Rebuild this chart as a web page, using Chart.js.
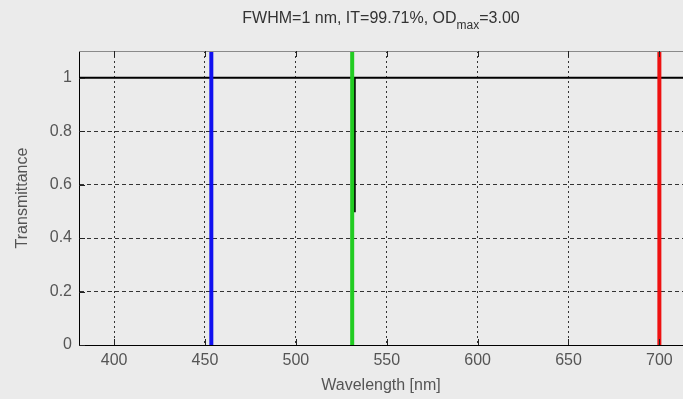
<!DOCTYPE html>
<html>
<head>
<meta charset="utf-8">
<script src="https://cdn.jsdelivr.net/npm/chart.js@4/dist/chart.umd.min.js"></script>
<style>
    html, body { margin: 0; padding: 0; background: #ebebeb; }
    #wrap { width: 683px; height: 399px; }
</style>
</head>
<body>
<div id="wrap"><canvas id="filterChart" width="683" height="399"></canvas></div>
<script>
// filter transmittance curve (notch at 532 nm)
const wavelengths = [380, 531.6, 532, 532.4, 713];
const transmittance = [1, 1, 0.5, 1, 1];

// laser lines
const blueLine = 453.5;
const greenLine = 531;
const redLine = 700;

const xTicks = [400, 450, 500, 550, 600, 650, 700];
const yTicks = [0, 0.2, 0.4, 0.6, 0.8, 1];

const titleMain = 'FWHM=1 nm, IT=99.71%, OD';
const titleSub = 'max';
const titleEnd = '=3.00';

const font = '"Liberation Sans", Arial, sans-serif';
const fontSize = 16;

function vline(x) {
    return [{ x: x, y: 0 }, { x: x, y: 1.1 }];
}

const framePlugin = {
    id: 'frame',
    beforeDraw(chart) {
        const ctx = chart.ctx;
        ctx.save();
        ctx.fillStyle = '#ebebeb';
        ctx.fillRect(0, 0, chart.width, chart.height);
        ctx.restore();
    },
    afterDraw(chart) {
        const ctx = chart.ctx;
        const area = chart.chartArea;
        const xs = chart.scales.x;
        const ys = chart.scales.y;
        ctx.save();
        // top border
        ctx.strokeStyle = '#8a8a8a';
        ctx.lineWidth = 1;
        ctx.beginPath();
        ctx.moveTo(area.left, area.top + 0.5);
        ctx.lineTo(area.right, area.top + 0.5);
        ctx.stroke();

        // matlab style inner ticks
        ctx.strokeStyle = '#222';
        ctx.beginPath();
        xTicks.forEach(v => {
            const px = Math.round(xs.getPixelForValue(v)) + 0.5;
            ctx.moveTo(px, area.bottom);
            ctx.lineTo(px, area.bottom - 6);
            ctx.moveTo(px, area.top);
            ctx.lineTo(px, area.top + 6);
        });
        yTicks.forEach(v => {
            const py = Math.round(ys.getPixelForValue(v)) + 0.5;
            ctx.moveTo(area.left, py);
            ctx.lineTo(area.left + 6, py);
        });
        ctx.stroke();

        // title with subscript
        ctx.fillStyle = '#333';
        ctx.textBaseline = 'alphabetic';
        ctx.font = fontSize + 'px ' + font;
        const w1 = ctx.measureText(titleMain).width;
        const w3 = ctx.measureText(titleEnd).width;
        ctx.font = (fontSize - 4) + 'px ' + font;
        const w2 = ctx.measureText(titleSub).width;
        let x = (area.left + area.right) / 2 - (w1 + w2 + w3) / 2;
        const y = 23;
        ctx.font = fontSize + 'px ' + font;
        ctx.fillText(titleMain, x, y);
        x += w1;
        ctx.font = (fontSize - 4) + 'px ' + font;
        ctx.fillText(titleSub, x, y + 6);
        x += w2;
        ctx.font = fontSize + 'px ' + font;
        ctx.fillText(titleEnd, x, y);
        ctx.restore();
    }
};

new Chart(document.getElementById('filterChart').getContext('2d'), {
    type: 'line',
    data: {
        datasets: [
            {
                label: 'Transmittance',
                data: wavelengths.map((w, i) => ({ x: w, y: transmittance[i] })),
                borderColor: '#000000',
                borderWidth: 2,
                pointRadius: 0,
                tension: 0,
                order: 2
            },
            {
                label: 'Blue',
                data: vline(blueLine),
                borderColor: '#1010f0',
                borderWidth: 4,
                pointRadius: 0,
                order: 1
            },
            {
                label: 'Green',
                data: vline(greenLine),
                borderColor: '#22cc22',
                borderWidth: 4,
                pointRadius: 0,
                order: 1
            },
            {
                label: 'Red',
                data: vline(redLine),
                borderColor: '#ee1111',
                borderWidth: 4,
                pointRadius: 0,
                order: 1
            }
        ]
    },
    options: {
        responsive: false,
        animation: false,
        layout: { padding: { top: 51, right: 0, left: 13, bottom: 0 } },
        plugins: {
            legend: { display: false },
            tooltip: { enabled: false }
        },
        scales: {
            x: {
                type: 'linear',
                min: 380.7,
                max: 713,
                afterBuildTicks: (s) => { s.ticks = xTicks.map(v => ({ value: v })); },
                afterFit: (s) => { s.height = 54; },
                grid: { color: '#333', drawTicks: false },
                border: { display: true, color: '#000', width: 1, dash: [2, 3] },
                ticks: { color: '#555', padding: 6, font: { family: font, size: fontSize } },
                title: {
                    display: true,
                    text: 'Wavelength [nm]',
                    color: '#555',
                    padding: { top: 0, bottom: 4 },
                    font: { family: font, size: fontSize }
                }
            },
            y: {
                min: 0,
                max: 1.1,
                afterBuildTicks: (s) => { s.ticks = yTicks.map(v => ({ value: v })); },
                afterFit: (s) => { s.width = 66; },
                grid: { color: '#333', drawTicks: false },
                border: { display: true, color: '#000', width: 1, dash: [4, 3] },
                ticks: {
                    color: '#555',
                    padding: 7,
                    font: { family: font, size: fontSize },
                    callback: (v) => String(Math.round(v * 10) / 10)
                },
                title: {
                    display: true,
                    text: 'Transmittance',
                    color: '#555',
                    padding: { top: 0, bottom: 2 },
                    font: { family: font, size: fontSize }
                }
            }
        }
    },
    plugins: [framePlugin]
});
</script>
</body>
</html>
